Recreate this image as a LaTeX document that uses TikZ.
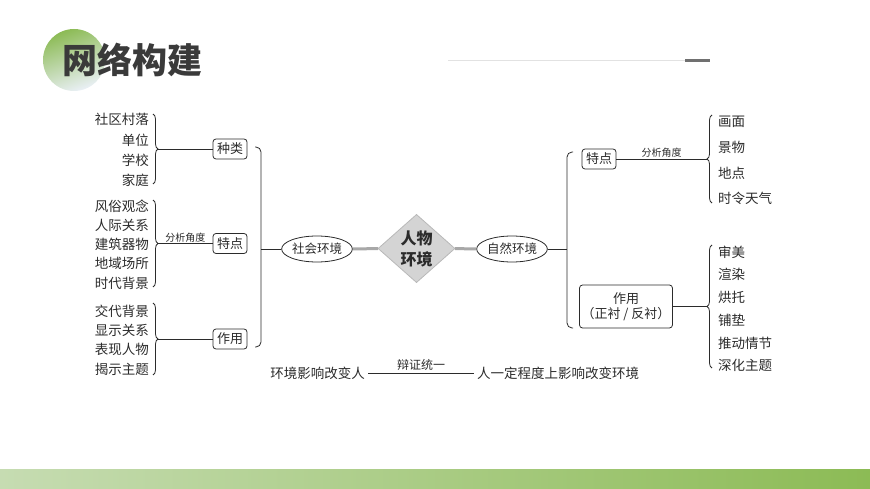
\documentclass[tikz,border=0pt]{standalone}
\usepackage{fontspec}
\setmainfont{Noto Sans CJK SC}
\usepackage{xcolor}
\usetikzlibrary{shapes.geometric, positioning, calc, decorations.pathreplacing}
\definecolor{inkdark}{HTML}{2B2B2B}
\definecolor{titlegray}{HTML}{3A3A3A}
\definecolor{leafgreen}{HTML}{8CBB55}
\definecolor{leaflight}{HTML}{C6DCB2}
\definecolor{mistblue}{HTML}{EAF0F6}
\definecolor{diamondfill}{HTML}{D4D4D4}
\definecolor{diamondline}{HTML}{B8B8B8}
\definecolor{linkgray}{HTML}{A8A8A8}
\definecolor{rulelight}{HTML}{E2E2E2}
\definecolor{ruledark}{HTML}{707070}

\tikzset{
  itemtext/.style={inkdark, font=\fontsize{13.5}{15}\selectfont, inner sep=1pt},
  smalltext/.style={inkdark, font=\fontsize{10}{11}\selectfont, inner sep=1pt},
  catbox/.style={draw=inkdark, rounded corners=3pt, line width=0.8pt, inkdark,
    font=\fontsize{13}{15}\selectfont, minimum height=20pt, inner xsep=4pt, inner ysep=1pt},
  envellipse/.style={ellipse, draw=inkdark, line width=0.8pt, inkdark,
    font=\fontsize{12.5}{14}\selectfont, inner sep=0pt, minimum width=69pt, minimum height=26pt},
  link/.style={inkdark, line width=0.8pt},
  thicklink/.style={linkgray, line width=3pt},
  bracedeco/.style={inkdark, line width=0.8pt, decorate,
    decoration={brace, amplitude=5pt}},
}

\begin{document}
\begin{tikzpicture}[x=1pt, y=-1pt]
  \useasboundingbox (0,0) rectangle (870,489);

  % Header
  \shade[top color=leafgreen, bottom color=mistblue, shading angle=20] (74,60) circle (31);
  \node[titlegray, font=\fontsize{35}{35}\selectfont\bfseries] (title) at (132,60) {网络构建};
  \draw[rulelight, line width=1pt] (448,61) -- (685,61);
  \draw[ruledark, line width=3pt] (685,61) -- (710,61);

  % Bottom band
  \shade[left color=leaflight, right color=leafgreen] (0,469) rectangle (870,489);

  % Centre: diamond and the two environments
  \node[diamond, fill=diamondfill, draw=diamondline, line width=0.8pt, inner sep=0pt,
        minimum width=77pt, minimum height=67pt, align=center, text=inkdark,
        font=\fontsize{16}{21}\selectfont\bfseries] (core) at (416.5,248.5) {人物\\环境};
  \node[envellipse] (social) at (317,249) {社会环境};
  \node[envellipse] (nature) at (512,249) {自然环境};
  \draw[thicklink] (social) -- (core);
  \draw[thicklink] (core) -- (nature);

  % Left side: social environment
  \draw[link, rounded corners=5pt] (255,147) -- (261,147) -- (261,347) -- (255,347);
  \coordinate (sbr) at (261,249);
  \draw[link] (sbr) -- (social);

  \node[catbox] (kind) at (230,149) {种类};
  \node[catbox] (feat) at (230,243.5) {特点};
  \node[catbox] (role) at (230,339) {作用};

  % Group: kinds
  \node[itemtext, anchor=east] (k1) at (150,119) {社区村落};
  \node[itemtext, anchor=east] (k2) at (150,140) {单位};
  \node[itemtext, anchor=east] (k3) at (150,160) {学校};
  \node[itemtext, anchor=east] (k4) at (150,180) {家庭};
  \draw[bracedeco] (153,114) -- (153,184);
  \coordinate (kb) at (158,149);
  \draw[link] (kb) -- (kind);

  % Group: features
  \node[itemtext, anchor=east] (f1) at (150,206) {风俗观念};
  \node[itemtext, anchor=east] (f2) at (150,225) {人际关系};
  \node[itemtext, anchor=east] (f3) at (150,244) {建筑器物};
  \node[itemtext, anchor=east] (f4) at (150,263) {地域场所};
  \node[itemtext, anchor=east] (f5) at (150,283) {时代背景};
  \draw[bracedeco] (153,200) -- (153,287);
  \coordinate (fb) at (158,243.5);
  \draw[link] (fb) -- node[smalltext, above=0pt] (fangle) {分析角度} (feat);

  % Group: roles
  \node[itemtext, anchor=east] (r1) at (150,311) {交代背景};
  \node[itemtext, anchor=east] (r2) at (150,330) {显示关系};
  \node[itemtext, anchor=east] (r3) at (150,349) {表现人物};
  \node[itemtext, anchor=east] (r4) at (150,369) {揭示主题};
  \draw[bracedeco] (153,303) -- (153,375);
  \coordinate (rb) at (158,339);
  \draw[link] (rb) -- (role);

  % Right side: natural environment
  \draw[link, rounded corners=5pt] (573,152) -- (567,152) -- (567,328) -- (573,328);
  \coordinate (nbr) at (567,249);
  \draw[link] (nature) -- (nbr);

  \node[catbox] (nfeat) at (599,159) {特点};
  \node[catbox, align=center, minimum width=92pt, minimum height=43pt, inner xsep=2pt]
    (nrole) at (626,306.5) {作用\\（正衬 / 反衬）};

  % Group: natural features
  \node[itemtext, anchor=west] (p1) at (717,122) {画面};
  \node[itemtext, anchor=west] (p2) at (717,147) {景物};
  \node[itemtext, anchor=west] (p3) at (717,173) {地点};
  \node[itemtext, anchor=west] (p4) at (717,198) {时令天气};
  \draw[bracedeco] (712,203) -- (712,115);
  \coordinate (pb) at (707,159);
  \draw[link] (nfeat) -- node[smalltext, above=0pt] (pangle) {分析角度} (pb);

  % Group: natural roles
  \node[itemtext, anchor=west] (q1) at (717,252) {审美};
  \node[itemtext, anchor=west] (q2) at (717,274) {渲染};
  \node[itemtext, anchor=west] (q3) at (717,297) {烘托};
  \node[itemtext, anchor=west] (q4) at (717,320) {铺垫};
  \node[itemtext, anchor=west] (q5) at (717,343) {推动情节};
  \node[itemtext, anchor=west] (q6) at (717,365) {深化主题};
  \draw[bracedeco] (712,368) -- (712,245);
  \coordinate (qb) at (707,306.5);
  \draw[link] (nrole) -- (qb);

  % Dialectic line at the bottom
  \node[itemtext, anchor=east] (envman) at (366,373) {环境影响改变人};
  \node[itemtext, anchor=west] (manenv) at (476,373) {人一定程度上影响改变环境};
  \draw[link, shorten <=2pt, shorten >=2pt] (envman) -- node[itemtext, font=\fontsize{12}{13}\selectfont, above=1pt] (unity) {辩证统一} (manenv);
\end{tikzpicture}
\end{document}
